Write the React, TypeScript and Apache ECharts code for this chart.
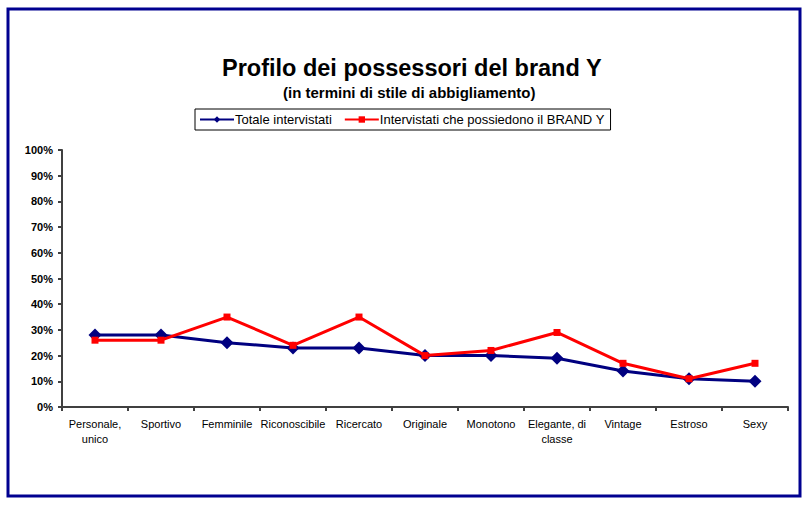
import React, { useEffect, useRef } from "react";
import * as echarts from "echarts";

const categories = [
  "Personale,\nunico",
  "Sportivo",
  "Femminile",
  "Riconoscibile",
  "Ricercato",
  "Originale",
  "Monotono",
  "Elegante, di\nclasse",
  "Vintage",
  "Estroso",
  "Sexy",
];
const totale = [28, 28, 25, 23, 23, 20, 20, 19, 14, 11, 10];
const brandY = [26, 26, 35, 24, 35, 20, 22, 29, 17, 11, 17];
const seriesNames = ["Totale intervistati", "Intervistati che possiedono il BRAND Y"];
const titleText = "Profilo dei possessori del brand Y";
const subtitleText = "(in termini di stile di abbigliamento)";

export default function App() {
  const ref = useRef<HTMLDivElement>(null);
  useEffect(() => {
    if (!ref.current) return;
    const chart = echarts.init(ref.current, null, { renderer: "svg" });
    chart.setOption({
      animation: false,
      backgroundColor: "#ffffff",
      title: [
        {
          text: titleText,
          left: 222,
          top: 56,
          padding: 0,
          textStyle: {
            fontFamily: "Arial, Liberation Sans",
            fontSize: 23.5,
            fontWeight: "bold",
            color: "#000",
          },
        },
        {
          text: subtitleText,
          left: 283,
          top: 85,
          padding: 0,
          textStyle: {
            fontFamily: "Arial, Liberation Sans",
            fontSize: 15,
            fontWeight: "bold",
            color: "#000",
          },
        },
      ],
      legend: {
        top: 109,
        left: 195,
        padding: [4, 6, 4, 4],
        itemGap: 12,
        itemWidth: 34,
        itemHeight: 8,
        borderColor: "#000",
        borderWidth: 1,
        borderRadius: 0,
        textStyle: {
          fontFamily: "Arial, Liberation Sans",
          fontSize: 13,
          color: "#000",
          padding: [0, 0, 0, -4],
        },
        data: seriesNames,
      },
      grid: { left: 62, top: 150, width: 726, height: 257 },
      xAxis: {
        type: "category",
        data: categories,
        boundaryGap: true,
        axisLine: { lineStyle: { color: "#404040", width: 2 } },
        axisTick: { show: true, length: 4, lineStyle: { color: "#404040", width: 2 } },
        axisLabel: {
          interval: 0,
          fontFamily: "Arial, Liberation Sans",
          fontSize: 11,
          color: "#000",
          margin: 9,
          lineHeight: 15,
        },
        splitLine: { show: false },
      },
      yAxis: {
        type: "value",
        min: 0,
        max: 100,
        interval: 10,
        axisLine: { show: true, lineStyle: { color: "#404040", width: 2 } },
        axisTick: { show: true, length: 4, lineStyle: { color: "#404040", width: 2 } },
        axisLabel: {
          formatter: "{value}%",
          fontFamily: "Arial, Liberation Sans",
          fontSize: 11,
          fontWeight: "bold",
          color: "#000",
          margin: 9,
        },
        splitLine: { show: false },
      },
      series: [
        {
          name: seriesNames[0],
          type: "line",
          data: totale,
          symbol: "diamond",
          symbolSize: 13,
          itemStyle: { color: "#000080" },
          lineStyle: { color: "#000080", width: 3 },
          z: 2,
        },
        {
          name: seriesNames[1],
          type: "line",
          data: brandY,
          symbol: "rect",
          symbolSize: 7,
          itemStyle: { color: "#ff0000" },
          lineStyle: { color: "#ff0000", width: 3 },
          z: 3,
        },
      ],
      graphic: [
        {
          type: "rect",
          shape: { x: 8, y: 9, width: 792, height: 487 },
          style: { fill: "none", stroke: "#000090", lineWidth: 3 },
          silent: true,
        },
      ],
    });
    return () => chart.dispose();
  }, []);
  return (
    <div
      ref={ref}
      style={{ position: "fixed", left: 0, top: 0, width: 808, height: 506 }}
    />
  );
}
